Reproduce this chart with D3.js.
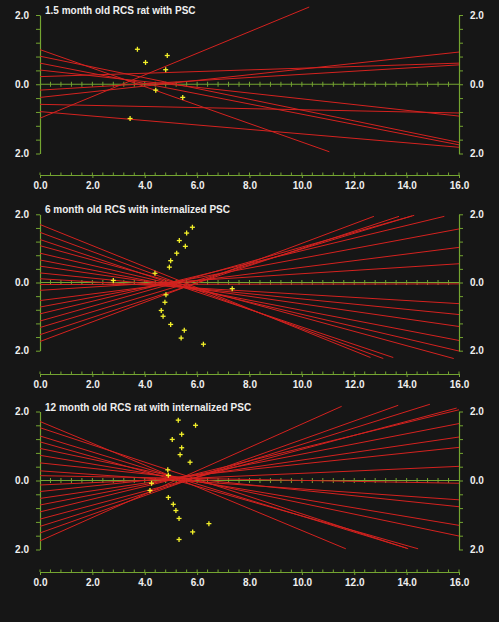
<!DOCTYPE html>
<html>
<head>
<meta charset="utf-8">
<script src="https://cdn.jsdelivr.net/npm/d3@7"></script>
<style>
  html, body { margin: 0; padding: 0; background: #161616; }
  svg { display: block; }
  text { font-family: "Liberation Sans", Arial, sans-serif; font-weight: bold; }
</style>
</head>
<body>
<svg id="chart" width="499" height="622"></svg>
<script>
// ---------- DATA ----------
const titles = [
  "1.5 month old RCS rat with PSC",
  "6 month old RCS with internalized PSC",
  "12 month old RCS rat with internalized PSC"
];
const xTickValues = [0, 2, 4, 6, 8, 10, 12, 14, 16];
const xTickLabels = ["0.0", "2.0", "4.0", "6.0", "8.0", "10.0", "12.0", "14.0", "16.0"];
const yTickValues = [2, 0, -2];
const yTickLabels = ["2.0", "0.0", "2.0"];

// lines: [x0, y0, x1, y1]
const lines1 = [
  [0, 1.00, 11.05, -1.95],
  [0, 0.81, 16, -1.68],
  [0, 0.61, 16, -1.75],
  [0, 0.41, 16, -0.92],
  [0, 0.22, 16, 0.61],
  [0, -0.17, 16, 0.56],
  [0, -0.38, 16, 0.93],
  [0, -0.58, 16, -0.83],
  [0, -0.79, 16, -1.82],
  [0, -0.98, 10.28, 2.23]
];
const points1 = [
  [3.72, 1.01], [4.03, 0.63], [4.86, 0.83], [4.80, 0.42],
  [4.42, -0.17], [5.45, -0.38], [3.44, -0.99]
];

const lines2 = [
  [0, 1.70, 12.62, -2.20],
  [0, 1.47, 13.11, -2.23],
  [0, 1.26, 13.49, -2.20],
  [0, 1.08, 15.80, -2.23],
  [0, 0.86, 16, -2.01],
  [0, 0.66, 16, -1.70],
  [0, 0.48, 16, -1.29],
  [0, 0.28, 16, -0.94],
  [0, 0.11, 16, -0.62],
  [0, -0.06, 16, -0.04],
  [0, -0.23, 16, 0.55],
  [0, -0.53, 16, 1.03],
  [0, -0.72, 16, 1.57],
  [0, -0.92, 15.44, 1.94],
  [0, -1.13, 14.29, 1.97],
  [0, -1.32, 14.20, 1.95],
  [0, -1.53, 13.71, 1.94],
  [0, -1.73, 12.75, 1.94]
];
const points2 = [
  [5.82, 1.62], [5.60, 1.45], [5.32, 1.23], [5.55, 1.06], [5.22, 0.86],
  [4.99, 0.64], [4.94, 0.45], [4.39, 0.27], [2.80, 0.06], [7.34, -0.18],
  [4.81, -0.36], [4.77, -0.58], [4.63, -0.82], [4.70, -0.99], [4.99, -1.23],
  [5.51, -1.40], [5.39, -1.63], [6.24, -1.81]
];

const lines3 = [
  [0, 1.71, 11.68, -1.98],
  [0, 1.53, 14.06, -1.98],
  [0, 1.29, 14.00, -1.96],
  [0, 1.12, 14.44, -1.98],
  [0, 0.93, 16, -1.61],
  [0, 0.73, 16, -1.30],
  [0, 0.51, 16, -0.76],
  [0, 0.28, 16, -0.56],
  [0, 0.14, 16, -0.08],
  [0, -0.13, 16, 0.41],
  [0, -0.32, 16, 0.96],
  [0, -0.52, 16, 1.26],
  [0, -0.71, 16, 1.65],
  [0, -0.91, 16, 2.05],
  [0, -1.12, 15.91, 2.10],
  [0, -1.33, 14.89, 2.21],
  [0, -1.52, 13.68, 2.18],
  [0, -1.75, 11.52, 2.15]
];
const points3 = [
  [5.28, 1.75], [5.94, 1.60], [5.41, 1.34], [5.05, 1.19], [5.41, 0.95],
  [5.35, 0.75], [5.73, 0.53], [4.88, 0.31], [4.90, 0.15], [4.26, -0.08],
  [4.20, -0.29], [4.90, -0.49], [5.09, -0.69], [5.19, -0.87], [5.31, -1.10],
  [6.45, -1.25], [5.83, -1.49], [5.31, -1.71]
];

// ---------- LAYOUT ----------
const panels = [
  { title: titles[0], lines: lines1, points: points1, top: 15,    bottom: 153.5, axisY: 175,   titleY: 13.6 },
  { title: titles[1], lines: lines2, points: points2, top: 214.3, bottom: 350.7, axisY: 374,   titleY: 213 },
  { title: titles[2], lines: lines3, points: points3, top: 411.5, bottom: 549.5, axisY: 572,   titleY: 411 }
];
const green = "#74a531";
const red = "#d4221f";
const yellow = "#f4f12a";
const textColor = "#efefef";
const left = 40, right = 459;

const svg = d3.select("#chart");
const x = d3.scaleLinear().domain([0, 16]).range([left, right]);
const minorX = d3.range(0, 16.001, 0.4);
const minorY = d3.range(-2, 2.001, 0.4);

panels.forEach(p => {
  const g = svg.append("g");
  const y = d3.scaleLinear().domain([-2, 2]).range([p.bottom, p.top]);

  // title
  g.append("text").attr("x", 45).attr("y", p.titleY)
    .attr("fill", textColor).attr("font-size", 10).text(p.title);

  // left axis
  const yAxisL = d3.axisLeft(y).tickValues(minorY).tickSize(4).tickSizeOuter(0).tickPadding(7)
    .tickFormat(d => {
      const i = yTickValues.findIndex(v => Math.abs(v - d) < 1e-6);
      return i >= 0 ? yTickLabels[i] : "";
    });
  const gl = g.append("g").attr("transform", `translate(${left},0)`).call(yAxisL);
  const yAxisR = d3.axisRight(y).tickValues(minorY).tickSize(4).tickSizeOuter(0).tickPadding(7)
    .tickFormat(d => {
      const i = yTickValues.findIndex(v => Math.abs(v - d) < 1e-6);
      return i >= 0 ? yTickLabels[i] : "";
    });
  const gr = g.append("g").attr("transform", `translate(${right},0)`).call(yAxisR);

  // bottom x axis
  const xAxis = d3.axisBottom(x).tickValues(xTickValues).tickSize(3).tickSizeOuter(0).tickPadding(4)
    .tickFormat((d, i) => xTickLabels[i]);
  const gx = g.append("g").attr("transform", `translate(0,${p.axisY})`).call(xAxis);
  gx.selectAll(".minor").data(minorX).enter().append("line")
    .attr("x1", d => x(d)).attr("x2", d => x(d)).attr("y1", 0).attr("y2", -2.5)
    .attr("stroke", green);

  [gl, gr, gx].forEach(a => {
    a.select(".domain").attr("stroke", green).attr("stroke-width", 1.2);
    a.selectAll(".tick line").attr("stroke", green);
    a.selectAll("text").attr("fill", textColor).attr("font-size", 10)
      .attr("font-family", "'Liberation Sans', Arial, sans-serif").attr("font-weight", "bold");
  });

  // zero line with ticks
  g.append("line").attr("x1", x(0)).attr("x2", x(16)).attr("y1", y(0)).attr("y2", y(0))
    .attr("stroke", green).attr("stroke-width", 1.2);
  g.selectAll(".zt").data(minorX.slice(1, -1)).enter().append("line")
    .attr("x1", d => x(d)).attr("x2", d => x(d))
    .attr("y1", y(0) - 2.5).attr("y2", y(0) + 2.5)
    .attr("stroke", green);

  // red lines
  g.selectAll(".fit").data(p.lines).enter().append("line")
    .attr("x1", d => x(d[0])).attr("y1", d => y(d[1]))
    .attr("x2", d => x(d[2])).attr("y2", d => y(d[3]))
    .attr("stroke", red).attr("stroke-width", 1);

  // yellow crosses
  const pts = g.selectAll(".pt").data(p.points).enter().append("g")
    .attr("transform", d => `translate(${x(d[0])},${y(d[1])})`);
  pts.append("line").attr("x1", -2.5).attr("x2", 2.5).attr("y1", 0).attr("y2", 0)
    .attr("stroke", yellow).attr("stroke-width", 1.3);
  pts.append("line").attr("x1", 0).attr("x2", 0).attr("y1", -2.5).attr("y2", 2.5)
    .attr("stroke", yellow).attr("stroke-width", 1.3);
});
</script>
</body>
</html>
